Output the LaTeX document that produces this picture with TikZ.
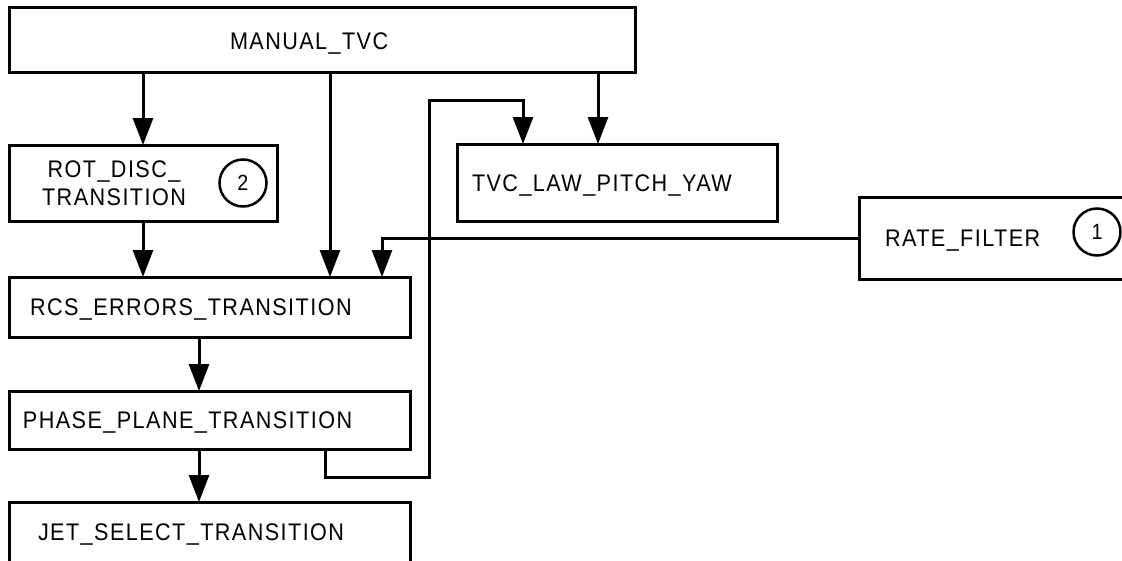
\documentclass[tikz,border=0pt]{standalone}
\usepackage{fontspec}
\setmainfont{Liberation Sans}[FakeStretch=0.9,LetterSpace=6]
\usetikzlibrary{arrows.meta}
\begin{document}
\begin{tikzpicture}[x=1pt,y=-1pt,
		blk/.style={draw, line width=3pt, rectangle, inner sep=0pt, outer sep=0pt, anchor=north west,
			text height=17pt, text depth=0pt, font=\fontsize{24}{28}\selectfont},
		num/.style={draw, circle, line width=2.5pt, minimum size=47pt, inner sep=0pt, outer sep=0pt,
			font=\fontsize{22}{26}\selectfont},
		arr/.style={line width=3pt, -{Triangle[length=27pt,width=20pt]}}]
			\useasboundingbox (0,0) rectangle (1122,560);
			\clip (0,0) rectangle (1122,560);
			
			\node[blk, minimum width=626pt, minimum height=65pt, inner xsep=221pt, text width=184pt, align=left,
				text height=20pt] (man) at (9,7) {MANUAL\_TVC};
			\node[blk, minimum width=268pt, minimum height=76pt, inner xsep=36pt, text width=196pt, align=left,
				text depth=28pt] (rot) at (9,145) {\makebox[138pt]{ROT\_DISC\_}\\\makebox[138pt]{TRANSITION}};
			\node[blk, minimum width=320pt, minimum height=77pt, inner xsep=15pt, text width=290pt, align=left] (tvc) at (457,144) {TVC\_LAW\_PITCH\_YAW};
			\node[blk, minimum width=300pt, minimum height=82pt, inner xsep=26pt, text width=248pt, align=left] (rate) at (859,197) {RATE\_FILTER};
			\node[blk, minimum width=401pt, minimum height=60pt, inner xsep=21pt, text width=359pt, align=left] (rcs) at (9,277) {RCS\_ERRORS\_TRANSITION};
			\node[blk, minimum width=401pt, minimum height=58pt, inner xsep=14pt, text width=373pt, align=left] (phase) at (9,391) {PHASE\_PLANE\_TRANSITION};
			\node[blk, minimum width=401pt, minimum height=60pt, inner xsep=29pt, text width=343pt, align=left] (jet) at (9,502) {JET\_SELECT\_TRANSITION};
			
			\node[num] (n2) at (243,183) {2};
			\node[num] (n1) at (1097,232) {1};
			
			\coordinate (cm) at (330,0);
			\coordinate (ct) at (598,0);
			\coordinate (cr) at (382,0);
			\coordinate (cc) at (199,0);
			\coordinate (fa) at (325,477);
			\coordinate (fb) at (429,100);
			\coordinate (fc) at (523,100);
			
			\draw[arr] (man.south -| rot.north) -- (rot.north);
			\draw[arr] (man.south -| cm) -- (rcs.north -| cm);
			\draw[arr] (man.south -| ct) -- (tvc.north -| ct);
			\draw[arr] (rot.south) -- (rcs.north -| rot.south);
			\draw[arr] (rate.west) -| (rcs.north -| cr);
			\draw[arr] (rcs.south -| cc) -- (phase.north -| cc);
			\draw[arr] (phase.south -| cc) -- (jet.north -| cc);
			\draw[arr] (phase.south -| fa) -- (fa) -| (fb) -| (tvc.north -| fc);
			
		\end{tikzpicture}
\end{document}
